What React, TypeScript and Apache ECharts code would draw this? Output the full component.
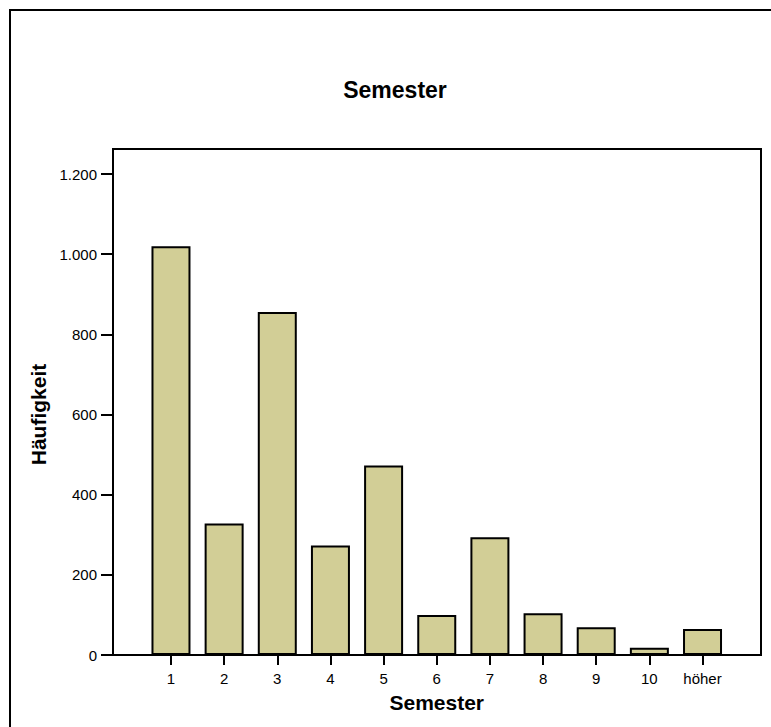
import React, { useEffect, useRef } from "react";
import * as echarts from "echarts";

const categories = ["1", "2", "3", "4", "5", "6", "7", "8", "9", "10", "höher"];
const counts = [1020, 328, 856, 273, 473, 100, 294, 104, 69, 18, 65];
const yTicks = [0, 200, 400, 600, 800, 1000, 1200];

const FONT = "'Liberation Sans', Arial, Helvetica, sans-serif";

function fmtDe(v: number): string {
  const s = String(Math.round(v));
  return s.replace(/\B(?=(\d{3})+(?!\d))/g, ".");
}

export default function App() {
  const ref = useRef<HTMLDivElement>(null);
  useEffect(() => {
    if (!ref.current) return;
    const chart = echarts.init(ref.current, null, { renderer: "svg" });
    const yMax = yTicks[yTicks.length - 1];
    const yStep = yTicks[1] - yTicks[0];
    chart.setOption({
      animation: false,
      backgroundColor: "#ffffff",
      title: {
        text: "Semester",
        left: 395,
        top: 78,
        padding: 0,
        textAlign: "center",
        textStyle: { fontFamily: FONT, fontSize: 23, fontWeight: "bold", color: "#000" },
      },
      graphic: [
        {
          type: "rect",
          shape: { x: 10, y: 10, width: 820, height: 820 },
          style: { fill: "none", stroke: "#000", lineWidth: 2 },
          silent: true,
        },
      ],
      grid: [
        {
          left: 113,
          top: 149,
          width: 648,
          height: 506,
          show: true,
          borderColor: "#000",
          borderWidth: 2,
          backgroundColor: "transparent",
        },
        {
          left: 144.4,
          top: 174,
          width: 584.7,
          height: 481,
        },
      ],
      xAxis: [
        { gridIndex: 0, type: "value", min: 0, max: 1, show: false },
        {
          gridIndex: 1,
          type: "category",
          data: categories,
          axisLine: { show: false },
          axisTick: { show: true, alignWithLabel: true, length: 10, lineStyle: { color: "#000", width: 2 } },
          axisLabel: { margin: 16, fontFamily: FONT, fontSize: 15, color: "#000" },
          name: "Semester",
          nameLocation: "middle",
          nameGap: 37,
          nameTextStyle: { fontFamily: FONT, fontSize: 21, fontWeight: "bold", color: "#000" },
        },
      ],
      yAxis: [
        { gridIndex: 0, type: "value", min: 0, max: 1, show: false },
        {
          gridIndex: 1,
          type: "value",
          min: 0,
          max: yMax,
          interval: yStep,
          offset: 31.4,
          splitLine: { show: false },
          axisLine: { show: false },
          axisTick: { show: true, length: 12, lineStyle: { color: "#000", width: 2 } },
          axisLabel: { margin: 16, fontFamily: FONT, fontSize: 15, color: "#000", formatter: (v: number) => fmtDe(v) },
          name: "Häufigkeit",
          nameLocation: "middle",
          nameGap: 61,
          nameRotate: 90,
          nameTextStyle: { fontFamily: FONT, fontSize: 21, fontWeight: "bold", color: "#000" },
        },
      ],
      series: [
        {
          type: "bar",
          xAxisIndex: 1,
          yAxisIndex: 1,
          data: counts,
          barWidth: 39,
          itemStyle: { color: "#d2ce96", borderColor: "#000", borderWidth: 2 },
        },
      ],
    });
    return () => chart.dispose();
  }, []);
  return (
    <div
      ref={ref}
      style={{ position: "fixed", left: 0, top: 0, width: 771, height: 727, background: "#fff" }}
    />
  );
}
